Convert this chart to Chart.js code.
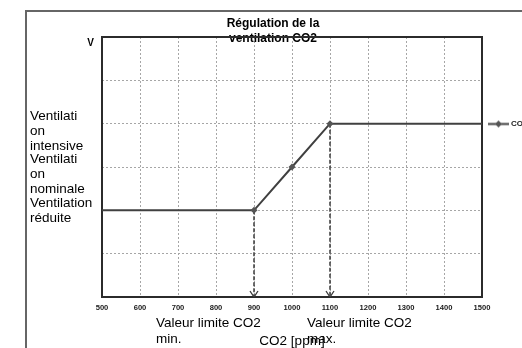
<!DOCTYPE html>
<html>
<head>
<meta charset="utf-8">
<script src="https://cdn.jsdelivr.net/npm/chart.js@4.4.0/dist/chart.umd.min.js"></script>
<style>
  html, body { margin: 0; padding: 0; background: #fff; overflow: hidden; }
  body { width: 522px; height: 348px; position: relative; }
  #frame { position: absolute; left: 25px; top: 10px; width: 600px; height: 400px; border: 2px solid #666; }
  #chart { position: absolute; left: 0; top: 0; }
</style>
</head>
<body>
<div id="frame"></div>
<canvas id="chart" width="540" height="348"></canvas>
<script>
// Données
const co2Ppm = [500, 900, 1000, 1100, 1500];
const ventLevel = [2, 2, 3, 4, 4];
const markerRadius = [0, 3.5, 3.5, 3.5, 0];

// Flèches pointillées vers l'axe
const arrowMinX = [900, 900];
const arrowMinY = [2, 0];
const arrowMaxX = [1100, 1100];
const arrowMaxY = [4, 0];

// Axes
const xMin = 500, xMax = 1500, xStep = 100;
const yMin = 0, yMax = 6;
const yTickLabels = ['', '', ['Ventilation', 'réduite'], ['Ventilati', 'on', 'nominale'], ['Ventilati', 'on', 'intensive'], '', ''];
const yUnit = 'V';

// Textes
const titleLines = ['Régulation de la', 'ventilation CO2'];
const xTitle = 'CO2 [ppm]';
const seriesName = 'CO2';
const limitLabels = [['Valeur limite CO2', 'min.'], ['Valeur limite CO2', 'max.']];

const fontFamily = "'Liberation Sans', Arial, sans-serif";
Chart.defaults.font.family = fontFamily;
Chart.defaults.color = '#000';

// Petite flèche ouverte (pointe au centre du canvas)
const arrowImg = document.createElement('canvas');
arrowImg.width = 10; arrowImg.height = 16;
(() => {
  const c = arrowImg.getContext('2d');
  c.strokeStyle = '#3a3a3a';
  c.lineWidth = 1.3;
  c.beginPath();
  c.moveTo(1, 2); c.lineTo(5, 8); c.lineTo(9, 2);
  c.stroke();
})();

// Symbole de légende : trait + losange
const legendImg = document.createElement('canvas');
legendImg.width = 21; legendImg.height = 9;
(() => {
  const c = legendImg.getContext('2d');
  c.strokeStyle = '#404040';
  c.lineWidth = 2;
  c.beginPath(); c.moveTo(0, 4.5); c.lineTo(21, 4.5); c.stroke();
  c.fillStyle = '#555';
  c.beginPath();
  c.moveTo(10.5, 1); c.lineTo(14, 4.5); c.lineTo(10.5, 8); c.lineTo(7, 4.5);
  c.closePath(); c.fill();
})();

const toPoints = (xs, ys) => xs.map((x, i) => ({ x, y: ys[i] }));

// Cadre du graphe + textes libres
const decorPlugin = {
  id: 'decor',
  beforeDatasetsDraw(chart) {
    const { ctx, chartArea: a } = chart;
    ctx.save();
    ctx.strokeStyle = '#2b2b2b';
    ctx.lineWidth = 2;
    ctx.strokeRect(a.left, a.top, a.right - a.left, a.bottom - a.top);
    ctx.restore();
  },
  afterDraw(chart) {
    const { ctx, chartArea: a, scales } = chart;
    ctx.save();
    ctx.fillStyle = '#000';
    ctx.textBaseline = 'middle';
    ctx.textAlign = 'right';
    ctx.font = 'bold 10px ' + fontFamily;
    ctx.fillText(yUnit, a.left - 8, scales.y.getPixelForValue(yMax) + 6);

    ctx.textAlign = 'left';
    ctx.font = '13.5px ' + fontFamily;
    const spots = [156, 307];
    limitLabels.forEach((lines, i) => {
      lines.forEach((t, j) => ctx.fillText(t, spots[i], 323 + j * 16));
    });
    ctx.restore();
  }
};

new Chart(document.getElementById('chart'), {
  type: 'line',
  data: {
    datasets: [
      {
        label: seriesName,
        data: toPoints(co2Ppm, ventLevel),
        yAxisID: 'y',
        borderColor: '#404040',
        borderWidth: 2,
        pointStyle: 'rectRot',
        pointRadius: markerRadius,
        pointBackgroundColor: '#555',
        pointBorderColor: '#555',
        pointBorderWidth: 0,
        tension: 0,
      },
      {
        label: 'min',
        data: toPoints(arrowMinX, arrowMinY),
        yAxisID: 'y',
        borderColor: '#3a3a3a',
        borderWidth: 1.5,
        borderDash: [4, 2],
        pointStyle: [false, arrowImg],
        pointRadius: [0, 5],
      },
      {
        label: 'max',
        data: toPoints(arrowMaxX, arrowMaxY),
        yAxisID: 'y',
        borderColor: '#3a3a3a',
        borderWidth: 1.5,
        borderDash: [4, 2],
        pointStyle: [false, arrowImg],
        pointRadius: [0, 5],
      },
    ]
  },
  options: {
    responsive: false,
    animation: false,
    events: [],
    layout: { padding: { left: 18, right: 12, top: 0, bottom: 0 } },
    plugins: {
      tooltip: { enabled: false },
      title: {
        display: true,
        text: titleLines,
        color: '#000',
        font: { size: 12, weight: 'bold', lineHeight: '15px' },
        padding: { top: 16, bottom: -9 },
      },
      legend: {
        display: true,
        position: 'right',
        align: 'start',
        fullSize: false,
        maxWidth: 46,
        title: { display: true, text: '', font: { size: 10, lineHeight: 1 }, padding: { top: 65, bottom: 0 } },
        labels: {
          filter: item => item.datasetIndex === 0,
          usePointStyle: true,
          pointStyle: legendImg,
          pointStyleWidth: 17,
          padding: 8,
          color: '#1a1a1a',
          font: { size: 8, weight: 'bold' },
        }
      }
    },
    scales: {
      x: {
        type: 'linear',
        min: xMin,
        max: xMax,
        afterFit: s => { s.height = 51; },
        ticks: {
          stepSize: xStep,
          autoSkip: false,
          maxRotation: 0,
          padding: 6.5,
          color: '#1a1a1a',
          font: { size: 7.6, weight: 'bold' },
          callback: v => String(v),
        },
        grid: { color: '#a6a6a6', lineWidth: 1, drawTicks: false, borderDash: [2, 2] },
        border: { display: false, dash: [2, 2] },
        title: {
          display: true,
          text: xTitle,
          color: '#000',
          font: { size: 13.5, lineHeight: 1 },
          padding: { top: 0, bottom: 0 },
        }
      },
      // marge vide à gauche des libellés de l'axe vertical
      yPad: {
        type: 'linear',
        position: 'left',
        weight: 1,
        afterFit: s => { s.width = 12; },
        ticks: { display: false },
        grid: { display: false },
        border: { display: false },
      },
      y: {
        min: yMin,
        max: yMax,
        afterFit: s => { s.width = 72; },
        ticks: {
          stepSize: 1,
          autoSkip: false,
          crossAlign: 'far',
          color: '#000',
          font: { size: 13.5, lineHeight: '15px' },
          // Excel a décalé les libellés de 3 lignes d'une ligne vers le bas
          callback: (v) => {
            const lbl = yTickLabels[v];
            return Array.isArray(lbl) && lbl.length === 3 ? ['', ...lbl] : lbl;
          }
        },
        grid: { color: '#a6a6a6', lineWidth: 1, drawTicks: false, borderDash: [2, 2] },
        border: { display: false, dash: [2, 2] },
      }
    }
  },
  plugins: [decorPlugin]
});
</script>
</body>
</html>
